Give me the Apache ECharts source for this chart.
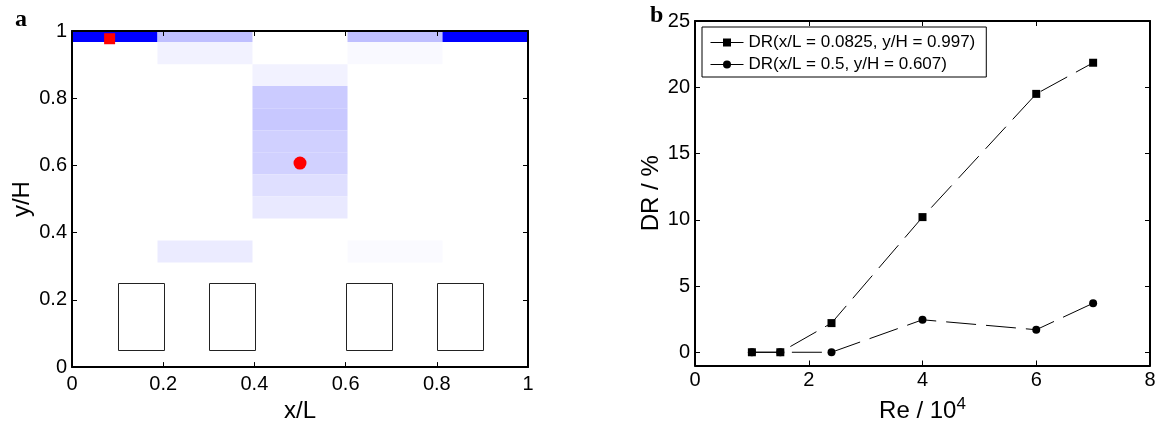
<!DOCTYPE html>
<html>
<head>
<meta charset="utf-8">
<script src="https://cdn.jsdelivr.net/npm/echarts@6/dist/echarts.min.js"></script>
<style>
html,body{margin:0;padding:0;background:#fff;}
#c{width:1161px;height:428px;}
</style>
</head>
<body>
<div id="c"></div>
<script>
// ---- Panel a: cell grid (x/L and y/H edges) and intensities ----
const colEdges = [0, 0.1875, 0.3958, 0.6042, 0.8125, 1];
const rowEdges = [1, 0.967, 0.901, 0.836, 0.770, 0.705, 0.639, 0.573, 0.508, 0.442, 0.377, 0.311];
// intensity per row (top to bottom) and column (left to right), 0 = white, 1 = full blue
const intensity = [
  [1, 0.25, 0, 0.25, 1],
  [0, 0.05, 0, 0.025, 0],
  [0, 0, 0.05, 0, 0],
  [0, 0, 0.205, 0, 0],
  [0, 0, 0.215, 0, 0],
  [0, 0, 0.185, 0, 0],
  [0, 0, 0.18, 0, 0],
  [0, 0, 0.125, 0, 0],
  [0, 0, 0.085, 0, 0],
  [0, 0, 0, 0, 0],
  [0, 0.08, 0, 0.02, 0]
];
// buildings: [x0, x1, y0, y1]
const buildings = [
  [0.1, 0.2, 0.05, 0.25],
  [0.3, 0.4, 0.05, 0.25],
  [0.6, 0.7, 0.05, 0.25],
  [0.8, 0.9, 0.05, 0.25]
];
const probeSquare = [[0.0825, 0.977]];
const probeCircle = [[0.5, 0.607]];

// ---- Panel b ----
const re = [1, 1.5, 2.4, 4, 6, 7];
const drTop = [0, 0, 2.2, 10.2, 19.5, 21.85];
const drMid = [0, 0, 0, 2.45, 1.7, 3.7];
const yTicksB = [0, 5, 10, 15, 20, 25];
const legendNames = ['DR(x/L = 0.0825, y/H = 0.997)', 'DR(x/L = 0.5, y/H = 0.607)'];

const cellData = [];
for (let r = 0; r < intensity.length; r++) {
  for (let c = 0; c < colEdges.length - 1; c++) {
    const v = intensity[r][c];
    if (v > 0) cellData.push([colEdges[c], colEdges[c + 1], rowEdges[r + 1], rowEdges[r], v]);
  }
}

const FONT = 'Liberation Sans, Arial, sans-serif';
const black = '#000';

function baseAxis(extra) {
  return Object.assign({
    type: 'value',
    axisLine: { show: true, onZero: false, lineStyle: { color: black, width: 2 } },
    axisTick: { show: true, inside: true, length: 5, lineStyle: { color: black, width: 1 } },
    axisLabel: { color: black, fontSize: 20, fontFamily: FONT },
    splitLine: { show: false },
    z: 10
  }, extra);
}
function mirrorAxis(extra) {
  const a = baseAxis(extra);
  a.axisLabel = { show: false };
  return a;
}

const chart = echarts.init(document.getElementById('c'), null, { renderer: 'canvas' });

const option = {
  animation: false,
  backgroundColor: '#fff',
  textStyle: { fontFamily: FONT },
  grid: [
    { left: 72, top: 31, width: 456, height: 339 },
    { left: 695, top: 21, width: 455, height: 346 }
  ],
  xAxis: [
    baseAxis({ gridIndex: 0, position: 'bottom', min: 0, max: 1, interval: 0.2,
      axisLabel: { color: black, fontSize: 20, fontFamily: FONT, margin: 7 },
      name: 'x/L', nameLocation: 'middle', nameGap: 27,
      nameTextStyle: { color: black, fontSize: 24, fontFamily: FONT } }),
    mirrorAxis({ gridIndex: 0, position: 'top', min: 0, max: 1, interval: 0.2 }),
    baseAxis({ gridIndex: 1, position: 'bottom', min: 0, max: 8, interval: 2,
      axisLabel: { color: black, fontSize: 20, fontFamily: FONT, margin: 5 },
      name: 'Re / 10{s|4}', nameLocation: 'middle', nameGap: 30,
      nameTextStyle: { color: black, fontSize: 24, fontFamily: FONT,
        rich: { s: { fontSize: 17, fontFamily: FONT, color: black, verticalAlign: 'top', padding: [0, 0, 14, 0] } } } }),
    mirrorAxis({ gridIndex: 1, position: 'top', min: 0, max: 8, interval: 2 })
  ],
  yAxis: [
    baseAxis({ gridIndex: 0, position: 'left', min: 0, max: 1, interval: 0.2,
      axisLabel: { color: black, fontSize: 20, fontFamily: FONT, margin: 5 },
      name: 'y/H', nameLocation: 'middle', nameGap: 38, nameRotate: 90,
      nameTextStyle: { color: black, fontSize: 24, fontFamily: FONT } }),
    mirrorAxis({ gridIndex: 0, position: 'right', min: 0, max: 1, interval: 0.2 }),
    baseAxis({ gridIndex: 1, position: 'left', min: -1, max: 25,
      axisLabel: { color: black, fontSize: 20, fontFamily: FONT, margin: 5, customValues: yTicksB },
      axisTick: { show: true, inside: true, length: 5, lineStyle: { color: black, width: 1 }, customValues: yTicksB },
      name: 'DR / %', nameLocation: 'middle', nameGap: 32, nameRotate: 90,
      nameTextStyle: { color: black, fontSize: 24, fontFamily: FONT } }),
    (function () {
      const a = mirrorAxis({ gridIndex: 1, position: 'right', min: -1, max: 25 });
      a.axisTick.customValues = yTicksB;
      a.axisLabel = { show: false, customValues: yTicksB };
      return a;
    })()
  ],
  legend: {
    data: legendNames,
    orient: 'vertical',
    left: 702, top: 27,
    backgroundColor: '#fff',
    borderColor: black, borderWidth: 1, borderRadius: 0,
    padding: [6, 11, 3, 8],
    itemGap: 3,
    itemWidth: 33, itemHeight: 10,
    textStyle: { color: black, fontSize: 17, fontFamily: FONT, lineHeight: 19 },
    lineStyle: { type: 'solid', width: 1, color: black },
    selectedMode: false
  },
  graphic: [
    { type: 'text', left: 15, top: 8, style: { text: 'a', font: 'bold 24px "Liberation Serif", serif', fill: black } },
    { type: 'text', left: 650, top: 4, style: { text: 'b', font: 'bold 24px "Liberation Serif", serif', fill: black } }
  ],
  series: [
    {
      type: 'custom', xAxisIndex: 0, yAxisIndex: 0, z: 1, silent: true,
      data: cellData,
      renderItem: function (params, api) {
        const p0 = api.coord([api.value(0), api.value(3)]);
        const p1 = api.coord([api.value(1), api.value(2)]);
        const v = api.value(4);
        const g = Math.round(255 * (1 - v));
        return {
          type: 'rect',
          shape: { x: p0[0], y: p0[1], width: p1[0] - p0[0], height: p1[1] - p0[1] },
          style: { fill: 'rgb(' + g + ',' + g + ',255)', stroke: null }
        };
      }
    },
    {
      type: 'custom', xAxisIndex: 0, yAxisIndex: 0, z: 2, silent: true,
      data: buildings,
      renderItem: function (params, api) {
        const p0 = api.coord([api.value(0), api.value(3)]);
        const p1 = api.coord([api.value(1), api.value(2)]);
        return {
          type: 'rect',
          shape: { x: Math.round(p0[0]) + 0.5, y: Math.round(p0[1]) + 0.5,
                   width: Math.round(p1[0] - p0[0]), height: Math.round(p1[1] - p0[1]) },
          style: { fill: null, stroke: '#222', lineWidth: 1 }
        };
      }
    },
    {
      type: 'scatter', xAxisIndex: 0, yAxisIndex: 0, z: 5, silent: true,
      symbol: 'rect', symbolSize: 11, itemStyle: { color: '#ff0000', opacity: 1 },
      data: probeSquare
    },
    {
      type: 'scatter', xAxisIndex: 0, yAxisIndex: 0, z: 5, silent: true,
      symbol: 'circle', symbolSize: 13, itemStyle: { color: '#ff0000', opacity: 1 },
      data: probeCircle
    },
    {
      name: legendNames[1], type: 'line', xAxisIndex: 2, yAxisIndex: 2, z: 3,
      data: re.map((x, i) => [x, drMid[i]]),
      symbol: 'circle', symbolSize: 8, showSymbol: true,
      itemStyle: { color: black, borderWidth: 0 },
      lineStyle: { color: black, width: 1, type: [30, 10] }
    },
    {
      name: legendNames[0], type: 'line', xAxisIndex: 2, yAxisIndex: 2, z: 4,
      data: re.map((x, i) => [x, drTop[i]]),
      symbol: 'rect', symbolSize: 8, showSymbol: true,
      itemStyle: { color: black, borderWidth: 0 },
      lineStyle: { color: black, width: 1, type: [30, 10] }
    }
  ]
};
chart.setOption(option);
</script>
</body>
</html>
